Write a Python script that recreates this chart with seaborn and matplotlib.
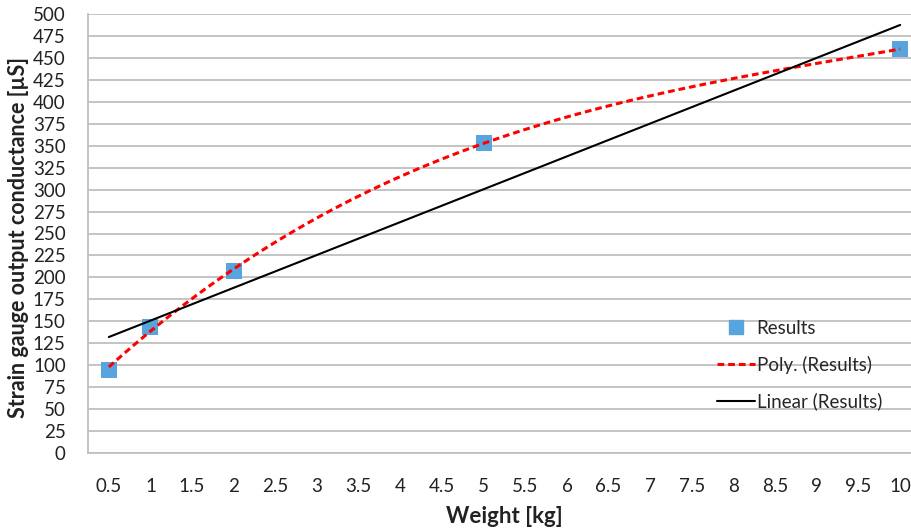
import numpy as np
import pandas as pd
import matplotlib
matplotlib.use("Agg")
import matplotlib.pyplot as plt
import seaborn as sns
from matplotlib.lines import Line2D

# Measured results (weight in kg, conductance in uS)
weights = [0.5, 1, 2, 5, 10]
conductance = [95, 144, 207, 353, 460]

# Category labels shown on the x axis
x_labels = [0.5, 1, 1.5, 2, 2.5, 3, 3.5, 4, 4.5, 5, 5.5, 6, 6.5, 7, 7.5, 8, 8.5, 9, 9.5, 10]
y_ticks = list(range(0, 501, 25))

df = pd.DataFrame({'Weight': weights, 'Conductance': conductance})

sns.set_style("white")
plt.rcParams['font.family'] = ['Lato', 'DejaVu Sans']

fig = plt.figure(figsize=(9.12, 5.28), dpi=100)
# plot area runs slightly past the right edge, like the cropped original
ax = fig.add_axes([88 / 912, 75 / 528, 833 / 912, 439 / 528])

grid_col = '#BFBFBF'
text_col = '#222222'

# trendlines (fitted by seaborn from the results)
sns.regplot(data=df, x='Weight', y='Conductance', order=3, scatter=False, ci=None,
            line_kws=dict(color='#FF0000', lw=2.2, ls=(0, (2.2, 1.3))), ax=ax)
sns.regplot(data=df, x='Weight', y='Conductance', order=1, scatter=False, ci=None,
            line_kws=dict(color='black', lw=1.5), ax=ax)
sns.scatterplot(data=df, x='Weight', y='Conductance', marker='s', s=125,
                color='#58A4DE', edgecolor='#58A4DE', linewidth=0, zorder=1, ax=ax)

ax.set_xlim(0.25, 10.25)
ax.set_ylim(0, 500)
ax.set_yticks(y_ticks)
ax.set_yticklabels([str(v) for v in y_ticks], fontsize=13.5, color=text_col)
ax.set_xticks(x_labels)
ax.set_xticklabels([f'{v:g}' for v in x_labels], fontsize=13.5, color=text_col)
ax.set_xticks(np.arange(0.25, 10.26, 0.5), minor=True)

ax.tick_params(axis='x', which='major', length=0, pad=18)
ax.tick_params(axis='x', which='minor', length=5, width=1.2, color=grid_col, direction='out')
ax.tick_params(axis='y', length=7, width=1.2, color=grid_col, direction='out', pad=9)

ax.grid(axis='y', color=grid_col, lw=1.3)
ax.set_axisbelow(True)
for side in ['top', 'right']:
    ax.spines[side].set_visible(False)
for side in ['left', 'bottom']:
    ax.spines[side].set_color(grid_col)
    ax.spines[side].set_linewidth(1.3)

ax.set_xlabel('Weight [kg]', fontsize=16, fontweight='bold', color=text_col)
ax.set_ylabel('Strain gauge output conductance [µS]', fontsize=15.5, fontweight='bold',
              color=text_col)
ax.xaxis.set_label_coords(0.5, -0.12)
ax.yaxis.set_label_coords(-0.071, 0.49)

handles = [
    Line2D([], [], marker='s', ls='none', markersize=10, color='#58A4DE'),
    Line2D([], [], color='#FF0000', lw=2.2, ls=(0, (2.2, 1.3))),
    Line2D([], [], color='black', lw=1.5),
]
ax.legend(handles, ['Results', 'Poly. (Results)', 'Linear (Results)'],
          frameon=False, fontsize=13.5, loc='upper left',
          bbox_to_anchor=(0.735, 0.342), handlelength=2.0, handletextpad=0.1,
          labelspacing=1.0)

fig.savefig('out.png', dpi=100)
